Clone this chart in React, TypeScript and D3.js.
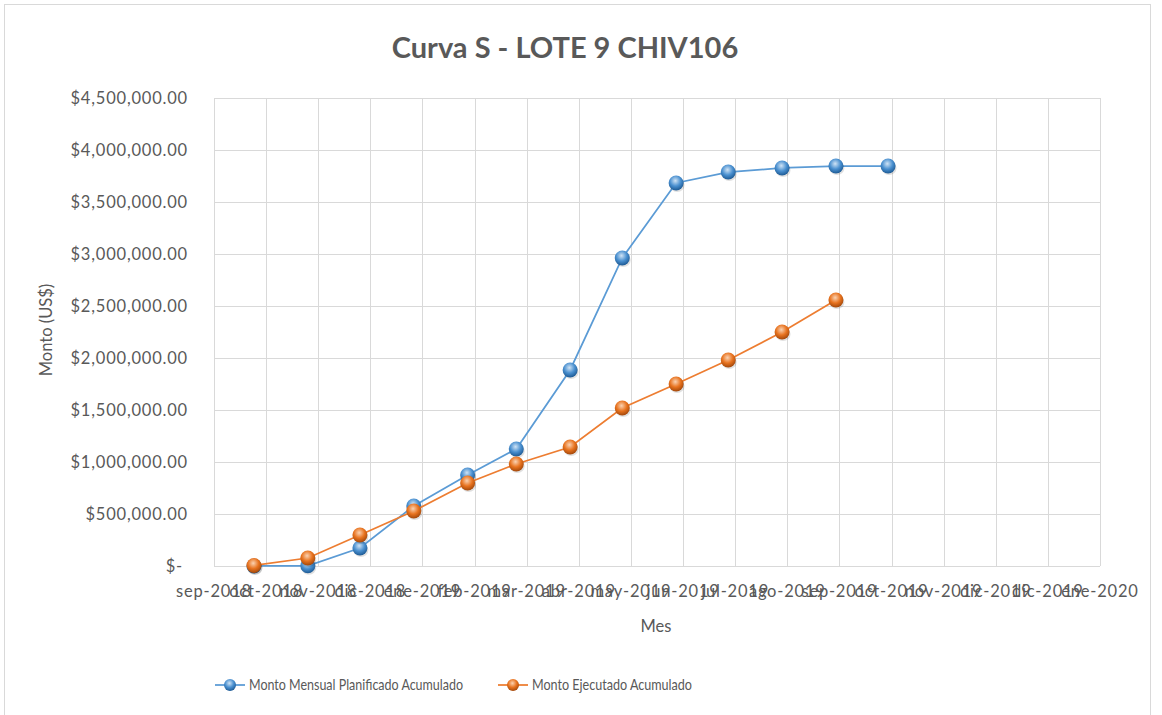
import { useEffect, useRef } from 'react';
import * as d3 from 'd3';

// month-end dates for each point
const monthDates = [
  '2018-09-30', '2018-10-31', '2018-11-30', '2018-12-31', '2019-01-31', '2019-02-28',
  '2019-03-31', '2019-04-30', '2019-05-31', '2019-06-30', '2019-07-31', '2019-08-31', '2019-09-30',
];
const planned = [0, 2000, 173000, 577000, 875000, 1125000, 1885000, 2962000, 3683000, 3788000, 3827000, 3846000, 3846000];
const executed = [5000, 77000, 298000, 529000, 798000, 981000, 1144000, 1519000, 1750000, 1981000, 2250000, 2558000];

const yTicks = [0, 500000, 1000000, 1500000, 2000000, 2500000, 3000000, 3500000, 4000000, 4500000];
const xDomain = ['2018-09-07', '2020-01-30'];
const xTickLabels = [
  'sep-2018', 'oct-2018', 'nov-2018', 'dic-2018', 'ene-2019', 'feb-2019', 'mar-2019', 'abr-2019', 'may-2019',
  'jun-2019', 'jul-2019', 'ago-2019', 'sep-2019', 'oct-2019', 'nov-2019', 'dic-2019', 'dic-2019', 'ene-2020',
];
const seriesNames = ['Monto Mensual Planificado Acumulado', 'Monto Ejecutado Acumulado'];

const W = 1162, H = 715;
const FONT = 'Lato, "Open Sans", sans-serif';
const TEXT = '#595959';
const GRID = '#D9D9D9';

export default function App() {
  const svgRef = useRef<SVGSVGElement>(null);
  const margin = { top: 98, right: 62, bottom: 149, left: 214 };

  useEffect(() => {
    if (!svgRef.current) return;
    const innerW = W - margin.left - margin.right;
    const innerH = H - margin.top - margin.bottom;
    const parse = d3.timeParse('%Y-%m-%d');

    const x = d3.scaleTime().domain(xDomain.map((d) => parse(d) as Date)).range([0, innerW]);
    const y = d3.scaleLinear().domain([0, 4500000]).range([innerH, 0]);

    const svg = d3.select(svgRef.current);
    svg.selectAll('*').remove();
    svg.append('rect').attr('width', W).attr('height', H).attr('fill', '#fff');
    svg.append('rect').attr('x', 4.5).attr('y', 4.5).attr('width', 1146).attr('height', 730)
      .attr('fill', 'none').attr('stroke', GRID);

    const defs = svg.append('defs');
    const ball = (id: string, light: string, mid: string, dark: string) => {
      const g = defs.append('radialGradient').attr('id', id).attr('cx', '45%').attr('cy', '35%').attr('r', '65%');
      g.append('stop').attr('offset', '0%').attr('stop-color', light);
      g.append('stop').attr('offset', '55%').attr('stop-color', mid);
      g.append('stop').attr('offset', '100%').attr('stop-color', dark);
    };
    ball('ballBlue', '#CFE3F5', '#4A90D0', '#1D5A94');
    ball('ballOrange', '#FAD2B2', '#E8731F', '#A3480B');

    // title
    svg.append('text').attr('x', 565).attr('y', 58).attr('text-anchor', 'middle')
      .attr('font-family', FONT).attr('font-weight', 700).attr('font-size', 29).attr('fill', TEXT)
      .text('Curva S - LOTE 9 CHIV106');

    const g = svg.append('g').attr('transform', `translate(${margin.left},${margin.top})`);

    // horizontal grid + y labels
    yTicks.forEach((v) => {
      g.append('line').attr('x1', 0).attr('x2', innerW).attr('y1', Math.round(y(v)) + 0.5).attr('y2', Math.round(y(v)) + 0.5)
        .attr('stroke', GRID);
      g.append('text').attr('x', v === 0 ? -31 : -26).attr('y', y(v)).attr('dy', '0.35em').attr('text-anchor', 'end')
        .attr('font-family', FONT).attr('font-size', 16.5).attr('letter-spacing', 0.8).attr('fill', TEXT)
        .text(v === 0 ? '$-' : '$' + d3.format(',.2f')(v));
    });

    // vertical grid + x labels, every 30 days from the axis start
    const x0 = x.domain()[0];
    xTickLabels.forEach((lab, i) => {
      const xx = x(d3.timeDay.offset(x0, i * 30));
      g.append('line').attr('x1', Math.round(xx) + 0.5).attr('x2', Math.round(xx) + 0.5).attr('y1', 0).attr('y2', innerH)
        .attr('stroke', GRID);
      g.append('text').attr('x', xx).attr('y', innerH + 31).attr('text-anchor', 'middle')
        .attr('font-family', FONT).attr('font-size', 16.5).attr('letter-spacing', 0.8).attr('fill', TEXT).text(lab);
    });

    // axis titles
    g.append('text').attr('x', innerW / 2 - 1).attr('y', innerH + 66).attr('text-anchor', 'middle')
      .attr('font-family', FONT).attr('font-size', 16.5).attr('fill', TEXT).text('Mes');
    svg.append('text').attr('transform', `translate(52,${margin.top + innerH / 2 - 2}) rotate(-90)`).attr('text-anchor', 'middle')
      .attr('font-family', FONT).attr('font-size', 16.5).attr('fill', TEXT).text('Monto (US$)');

    const series = [
      { values: planned, color: '#5B9BD5', fill: 'url(#ballBlue)' },
      { values: executed, color: '#ED7D31', fill: 'url(#ballOrange)' },
    ];
    const line = d3.line<[Date, number]>().x((d) => x(d[0])).y((d) => y(d[1]));

    series.forEach((s) => {
      const pts: [Date, number][] = s.values.map((v, i) => [parse(monthDates[i]) as Date, v]);
      g.append('path').datum(pts).attr('fill', 'none').attr('stroke', s.color).attr('stroke-width', 1.75).attr('d', line);
      pts.forEach((p) => {
        g.append('ellipse').attr('cx', x(p[0]) + 1).attr('cy', y(p[1]) + 2).attr('rx', 7.5).attr('ry', 7)
          .attr('fill', 'rgba(0,0,0,0.12)');
        g.append('circle').attr('cx', x(p[0])).attr('cy', y(p[1])).attr('r', 7.5).attr('fill', s.fill);
      });
    });

    // legend (text squeezed to the narrow widths of the original)
    const legendX = [215, 498];
    const legendW = [214, 160];
    series.forEach((s, i) => {
      const lx = legendX[i], ly = 685;
      svg.append('line').attr('x1', lx).attr('x2', lx + 30).attr('y1', ly).attr('y2', ly)
        .attr('stroke', s.color).attr('stroke-width', 1.75);
      svg.append('circle').attr('cx', lx + 15).attr('cy', ly).attr('r', 6).attr('fill', s.fill);
      svg.append('text').attr('x', lx + 34).attr('y', ly).attr('dy', '0.35em')
        .attr('textLength', legendW[i]).attr('lengthAdjust', 'spacingAndGlyphs')
        .attr('font-family', FONT).attr('font-size', 15).attr('fill', TEXT).text(seriesNames[i]);
    });
  }, []);

  return <svg ref={svgRef} width={W} height={H} style={{ position: 'absolute', left: 0, top: 0, display: 'block' }} />;
}
